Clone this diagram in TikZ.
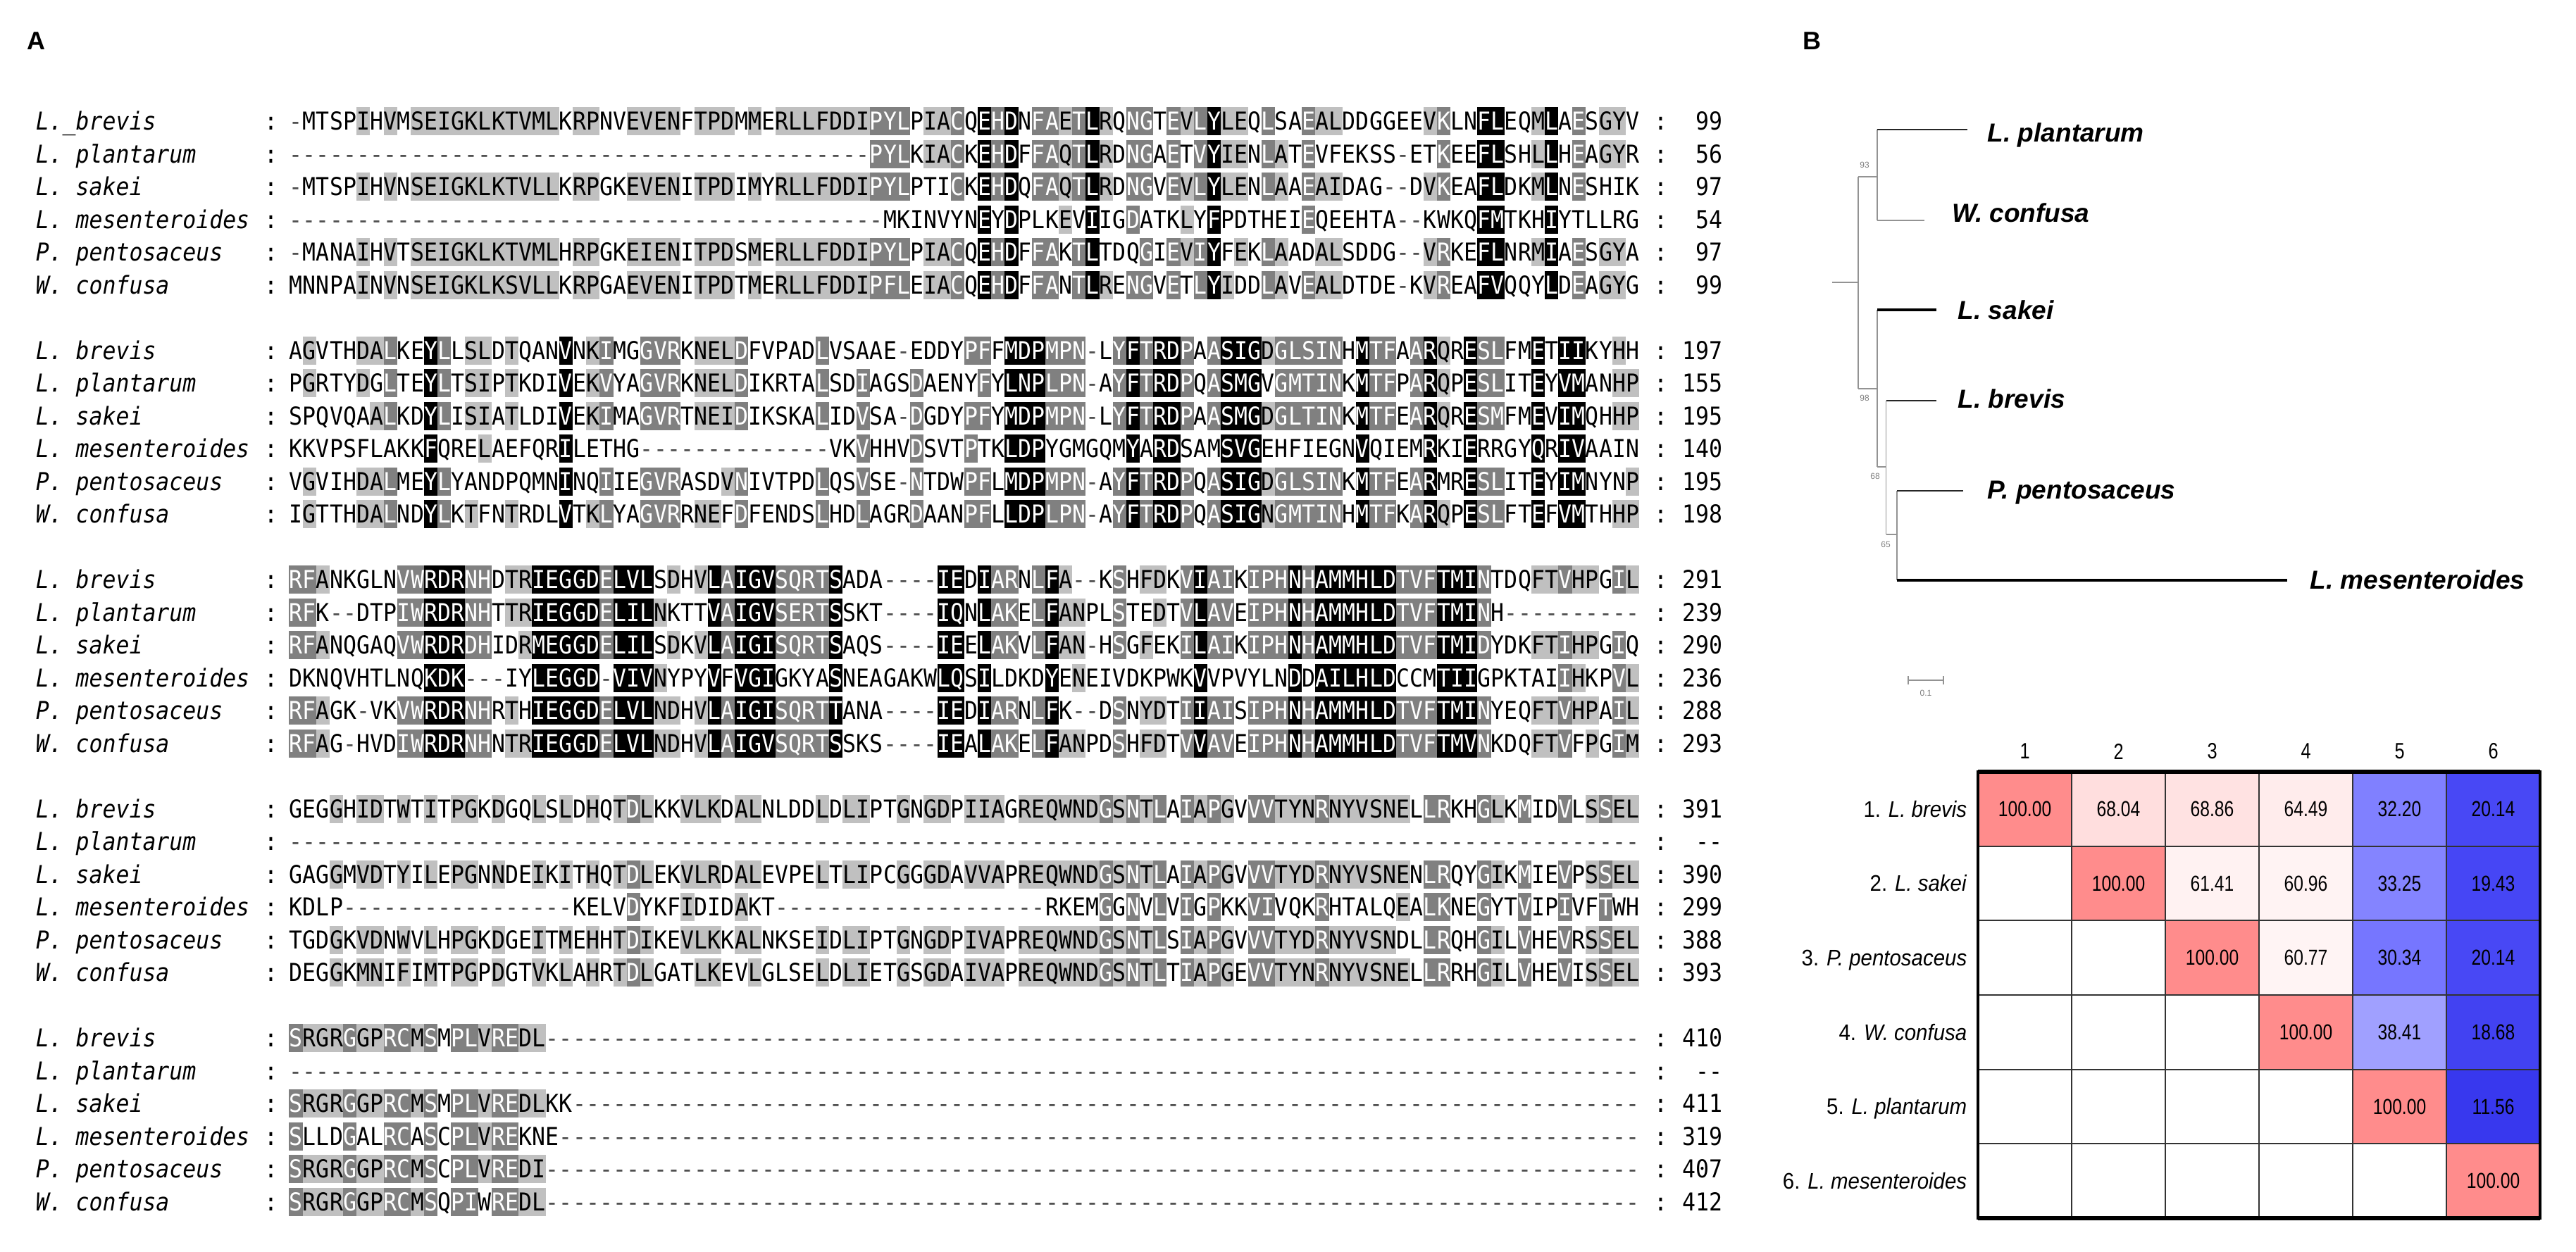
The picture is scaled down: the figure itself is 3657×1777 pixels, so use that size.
\documentclass[tikz,border=0pt]{standalone}
\usepackage{fontspec}
\setmainfont{Liberation Sans}
\newfontfamily\seqfont[FakeStretch=0.9]{DejaVu Sans Mono}
\newfontfamily\numfont[FakeStretch=0.8]{Liberation Sans}
\newfontfamily\lblfont[FakeStretch=0.92]{Liberation Sans}

\definecolor{shlight}{RGB}{192,192,192}
\definecolor{shdark}{RGB}{128,128,128}
\definecolor{gapc}{RGB}{80,80,80}
\definecolor{m100}{RGB}{255,140,140}
\definecolor{m6804}{RGB}{255,222,222}
\definecolor{m6886}{RGB}{255,226,226}
\definecolor{m6449}{RGB}{255,236,236}
\definecolor{m6141}{RGB}{255,242,242}
\definecolor{m6096}{RGB}{255,243,243}
\definecolor{m6077}{RGB}{255,244,244}
\definecolor{m3220}{RGB}{128,128,255}
\definecolor{m3325}{RGB}{132,132,255}
\definecolor{m3034}{RGB}{118,118,255}
\definecolor{m3841}{RGB}{160,160,255}
\definecolor{m2014}{RGB}{72,72,245}
\definecolor{m1943}{RGB}{70,70,245}
\definecolor{m1868}{RGB}{66,66,242}
\definecolor{m1156}{RGB}{56,56,238}

\tikzset{
  res/.style={inner sep=0pt, minimum width=4.79pt, minimum height=10pt,
    text height=6.4pt, text depth=0pt, font=\seqfont\fontsize{8.75}{10}\selectfont},
  res0/.style={res},
  res1/.style={res, fill=shlight},
  res2/.style={res, fill=shdark, text=white},
  res3/.style={res, fill=black, text=white},
  res4/.style={res, text=gapc},
  seqlab/.style={inner sep=0pt, text height=6.4pt, text depth=0pt,
    font=\seqfont\itshape\fontsize{8.75}{10}\selectfont, anchor=west},
  seqtxt/.style={inner sep=0pt, text height=6.4pt, text depth=0pt,
    font=\seqfont\fontsize{8.75}{10}\selectfont},
  tg/.style={draw=gray!85, line width=0.45pt},
  tb/.style={draw=black!85, line width=0.5pt},
  tk/.style={draw=black, line width=0.8pt},
  tlab/.style={inner sep=0pt, anchor=west, text height=6.6pt, text depth=0pt,
    font=\bfseries\itshape\fontsize{9.25}{11}\selectfont},
  boot/.style={inner sep=0pt, text=gray, font=\fontsize{3}{3.5}\selectfont},
  mval/.style={inner sep=0pt, font=\numfont\fontsize{7.7}{9}\selectfont},
  mhead/.style={inner sep=0pt, font=\numfont\fontsize{7.9}{9}\selectfont},
  mlab/.style={inner sep=0pt, anchor=east, text height=5.7pt, text depth=0pt,
    font=\lblfont\fontsize{8}{9}\selectfont},
  mgrid/.style={draw=black!80, line width=0.45pt},
  mborder/.style={draw=black, line width=0.8pt},
  panel/.style={inner sep=0pt, font=\bfseries\fontsize{9}{10}\selectfont}
}

\newcommand\alncell[5]{\node[res#4] (#5) at (#1,#2) {#3};}

\ExplSyntaxOn
\int_new:N \l__aln_m_int
\int_new:N \l__aln_lvl_int
\tl_const:Nn \c__aln_dash_tl { - }
\int_step_inline:nnn {1}{6}
  { \tl_new:c { l__aln_c_#1_tl } \tl_new:c { l__aln_g_#1_tl } }
\cs_new:cpn { aln_grp_N } { D }
\cs_new:cpn { aln_grp_Q } { E }
\cs_new:cpn { aln_grp_T } { S }
\cs_new:cpn { aln_grp_R } { K }
\cs_new:cpn { aln_grp_Y } { F }
\cs_new:cpn { aln_grp_W } { F }
\cs_new:cpn { aln_grp_I } { L }
\cs_new:cpn { aln_grp_V } { L }
\cs_new:cpn { aln_grp_M } { L }
\cs_new:Npn \alnD #1 { \prg_replicate:nn {#1} {-} }
\NewDocumentCommand \alnrow { m m m }
  {
    \tl_gclear_new:c { g__aln_#1_#2_tl }
    \tl_gset:cx { g__aln_#1_#2_tl } {#3}
    \tl_gput_right:cx { g__aln_#1_#2_tl }
      { \prg_replicate:nn { \int_max:nn {0} { 100 - \tl_count:c { g__aln_#1_#2_tl } } } {-} }
  }
\cs_new_protected:Npn \__aln_cell:nnn #1#2#3
  {
    \int_zero:N \l__aln_m_int
    \int_step_inline:nnn {1}{6}
      {
        \tl_if_eq:ccT { l__aln_g_#3_tl } { l__aln_g_##1_tl }
          { \int_incr:N \l__aln_m_int }
      }
    \tl_if_eq:cNTF { l__aln_c_#3_tl } \c__aln_dash_tl
      { \int_set:Nn \l__aln_lvl_int {4} }
      {
        \int_set:Nn \l__aln_lvl_int
          { \int_case:nnF { \l__aln_m_int } { {6}{3} {5}{2} {4}{1} } {0} }
      }
    \use:x
      {
        \exp_not:N \alncell
          { \fp_eval:n { 420 + (#2 - 1) * 19.17 } }
          { \fp_eval:n { 172 + 325.5 * #1 + 46.5 * (#3 - 1) } }
          { \tl_use:c { l__aln_c_#3_tl } }
          { \int_use:N \l__aln_lvl_int }
          { s#1-#3-#2 }
      }
  }
\cs_new_protected:Npn \__aln_col:nn #1#2
  {
    \int_step_inline:nnn {1}{6}
      {
        \tl_set:cx { l__aln_c_##1_tl } { \tl_item:cn { g__aln_#1_##1_tl } {#2} }
        \tl_set:cx { l__aln_g_##1_tl }
          { \cs_if_exist_use:cF { aln_grp_ \tl_use:c { l__aln_c_##1_tl } } { \tl_use:c { l__aln_c_##1_tl } } }
      }
    \int_step_inline:nnn {1}{6} { \__aln_cell:nnn {#1} {#2} {##1} }
  }
\NewDocumentCommand \alnblock { m }
  { \int_step_inline:nnn {1}{100} { \__aln_col:nn {#1} {##1} } }
\ExplSyntaxOff

% ---------------- data ----------------
\alnrow{0}{1}{-MTSPIHVMSEIGKLKTVMLKRPNVEVENFTPDMMERLLFDDIPYLPIACQEHDNFAETLRQNGTEVLYLEQLSAEALDDGGEEVKLNFLEQMLAESGYV}
\alnrow{0}{2}{\alnD{43}PYLKIACKEHDFFAQTLRDNGAETVYIENLATEVFEKSS-ETKEEFLSHLLHEAGYR}
\alnrow{0}{3}{-MTSPIHVNSEIGKLKTVLLKRPGKEVENITPDIMYRLLFDDIPYLPTICKEHDQFAQTLRDNGVEVLYLENLAAEAIDAG--DVKEAFLDKMLNESHIK}
\alnrow{0}{4}{\alnD{44}MKINVYNEYDPLKEVIIGDATKLYFPDTHEIEQEEHTA--KWKQFMTKHIYTLLRG}
\alnrow{0}{5}{-MANAIHVTSEIGKLKTVMLHRPGKEIENITPDSMERLLFDDIPYLPIACQEHDFFAKTLTDQGIEVIYFEKLAADALSDDG--VRKEFLNRMIAESGYA}
\alnrow{0}{6}{MNNPAINVNSEIGKLKSVLLKRPGAEVENITPDTMERLLFDDIPFLEIACQEHDFFANTLRENGVETLYIDDLAVEALDTDE-KVREAFVQQYLDEAGYG}

\alnrow{1}{1}{AGVTHDALKEYLLSLDTQANVNKIMGGVRKNELDFVPADLVSAAE-EDDYPFFMDPMPN-LYFTRDPAASIGDGLSINHMTFAARQRESLFMETIIKYHH}
\alnrow{1}{2}{PGRTYDGLTEYLTSIPTKDIVEKVYAGVRKNELDIKRTALSDIAGSDAENYFYLNPLPN-AYFTRDPQASMGVGMTINKMTFPARQPESLITEYVMANHP}
\alnrow{1}{3}{SPQVQAALKDYLISIATLDIVEKIMAGVRTNEIDIKSKALIDVSA-DGDYPFYMDPMPN-LYFTRDPAASMGDGLTINKMTFEARQRESMFMEVIMQHHP}
\alnrow{1}{4}{KKVPSFLAKKFQRELAEFQRILETHG\alnD{14}VKVHHVDSVTPTKLDPYGMGQMYARDSAMSVGEHFIEGNVQIEMRKIERRGYQRIVAAIN}
\alnrow{1}{5}{VGVIHDALMEYLYANDPQMNINQIIEGVRASDVNIVTPDLQSVSE-NTDWPFLMDPMPN-AYFTRDPQASIGDGLSINKMTFEARMRESLITEYIMNYNP}
\alnrow{1}{6}{IGTTHDALNDYLKTFNTRDLVTKLYAGVRRNEFDFENDSLHDLAGRDAANPFLLDPLPN-AYFTRDPQASIGNGMTINHMTFKARQPESLFTEFVMTHHP}

\alnrow{2}{1}{RFANKGLNVWRDRNHDTRIEGGDELVLSDHVLAIGVSQRTSADA----IEDIARNLFA--KSHFDKVIAIKIPHNHAMMHLDTVFTMINTDQFTVHPGIL}
\alnrow{2}{2}{RFK--DTPIWRDRNHTTRIEGGDELILNKTTVAIGVSERTSSKT----IQNLAKELFANPLSTEDTVLAVEIPHNHAMMHLDTVFTMINH}
\alnrow{2}{3}{RFANQGAQVWRDRDHIDRMEGGDELILSDKVLAIGISQRTSAQS----IEELAKVLFAN-HSGFEKILAIKIPHNHAMMHLDTVFTMIDYDKFTIHPGIQ}
\alnrow{2}{4}{DKNQVHTLNQKDK---IYLEGGD-VIVNYPYVFVGIGKYASNEAGAKWLQSILDKDYENEIVDKPWKVVPVYLNDDAILHLDCCMTIIGPKTAIIHKPVL}
\alnrow{2}{5}{RFAGK-VKVWRDRNHRTHIEGGDELVLNDHVLAIGISQRTTANA----IEDIARNLFK--DSNYDTIIAISIPHNHAMMHLDTVFTMINYEQFTVHPAIL}
\alnrow{2}{6}{RFAG-HVDIWRDRNHNTRIEGGDELVLNDHVLAIGVSQRTSSKS----IEALAKELFANPDSHFDTVVAVEIPHNHAMMHLDTVFTMVNKDQFTVFPGIM}

\alnrow{3}{1}{GEGGHIDTWTITPGKDGQLSLDHQTDLKKVLKDALNLDDLDLIPTGNGDPIIAGREQWNDGSNTLAIAPGVVVTYNRNYVSNELLRKHGLKMIDVLSSEL}
\alnrow{3}{2}{}
\alnrow{3}{3}{GAGGMVDTYILEPGNNDEIKITHQTDLEKVLRDALEVPELTLIPCGGGDAVVAPREQWNDGSNTLAIAPGVVVTYDRNYVSNENLRQYGIKMIEVPSSEL}
\alnrow{3}{4}{KDLP\alnD{17}KELVDYKFIDIDAKT\alnD{20}RKEMGGNVLVIGPKKVIVQKRHTALQEALKNEGYTVIPIVFTWH}
\alnrow{3}{5}{TGDGKVDNWVLHPGKDGEITMEHHTDIKEVLKKALNKSEIDLIPTGNGDPIVAPREQWNDGSNTLSIAPGVVVTYDRNYVSNDLLRQHGILVHEVRSSEL}
\alnrow{3}{6}{DEGGKMNIFIMTPGPDGTVKLAHRTDLGATLKEVLGLSELDLIETGSGDAIVAPREQWNDGSNTLTIAPGEVVTYNRNYVSNELLRRHGILVHEVISSEL}

\alnrow{4}{1}{SRGRGGPRCMSMPLVREDL}
\alnrow{4}{2}{}
\alnrow{4}{3}{SRGRGGPRCMSMPLVREDLKK}
\alnrow{4}{4}{SLLDGALRCASCPLVREKNE}
\alnrow{4}{5}{SRGRGGPRCMSCPLVREDI}
\alnrow{4}{6}{SRGRGGPRCMSQPIWREDL}

\newcommand\alnmeta[8]{%
  \foreach \r/\nm/\num in {1/{#2}/{#3},2/{L. plantarum}/{#4},3/{L. sakei}/{#5},4/{L. mesenteroides}/{#6},5/{P. pentosaceus}/{#7},6/{W. confusa}/{#8}}{%
    \pgfmathsetmacro\yy{172+325.5*#1+46.5*(\r-1)}
    \node[seqlab] (lab-#1-\r) at (50,\yy) {\nm};
    \node[seqtxt] (cola-#1-\r) at (385,\yy) {:};
    \node[seqtxt] (colb-#1-\r) at (2358,\yy) {:};
    \node[seqtxt,anchor=east] (num-#1-\r) at (2446,\yy) {\num};
  }%
}

\newcommand\mcell[4]{%
  \fill[#4] ({2808+133*(#2-1)},{1096+105.67*(#1-1)}) rectangle ({2808+133*#2},{1096+105.67*#1});
  \node[mval] (m-#1-#2) at ({2808+133*(#2-0.5)},{1096+105.67*(#1-0.5)}) {#3};
}

\begin{document}
\begin{tikzpicture}[x=0.25pt,y=-0.25pt]
\useasboundingbox (0,0) rectangle (3657,1777);
\fill[white] (0,0) rectangle (3657,1777);

\node[panel] (pA) at (51,58) {A};
\node[panel] (pB) at (2572,58) {B};

% ---------- alignment ----------
\alnblock{0}
\alnblock{1}
\alnblock{2}
\alnblock{3}
\alnblock{4}
\alnmeta{0}{L.\_brevis}{99}{56}{97}{54}{97}{99}
\alnmeta{1}{L. brevis}{197}{155}{195}{140}{195}{198}
\alnmeta{2}{L. brevis}{291}{239}{290}{236}{288}{293}
\alnmeta{3}{L. brevis}{391}{--}{390}{299}{388}{393}
\alnmeta{4}{L. brevis}{410}{--}{411}{319}{407}{412}

% ---------- tree ----------
\coordinate (Rs) at (2601,401);
\coordinate (R) at (2638,401);
\coordinate (A) at (2665,251);
\coordinate (B) at (2665,552);
\coordinate (C) at (2677.5,663);
\coordinate (D) at (2693,759);
\coordinate (tPl) at (2793,184);
\coordinate (tWc) at (2732,313);
\coordinate (tSk) at (2749,440);
\coordinate (tBr) at (2749,569);
\coordinate (tPp) at (2787,697);
\coordinate (tLm) at (3247,824);
\draw[tg] (Rs) -- (R);
\draw[tg] (A -| R) -- (B -| R);
\draw[tg] (R |- A) -- (A);
\draw[tg] (R |- B) -- (B);
\draw[tg] (tPl -| A) -- (tWc -| A);
\draw[tb] (tPl -| A) -- (tPl);
\draw[tg] (tWc -| A) -- (tWc);
\draw[tg] (tSk -| B) -- (C -| B);
\draw[tk] (tSk -| B) -- (tSk);
\draw[tg] (C -| B) -- (C);
\draw[tg] (tBr -| C) -- (D -| C);
\draw[tb] (tBr -| C) -- (tBr);
\draw[tg] (D -| C) -- (D);
\draw[tg] (tPp -| D) -- (tLm -| D);
\draw[tb] (tPp -| D) -- (tPp);
\draw[tk] (tLm -| D) -- (tLm);
\node[tlab] (lPl) at (2821,188) {L. plantarum};
\node[tlab] (lWc) at (2771,302) {W. confusa};
\node[tlab] (lSk) at (2779,440) {L. sakei};
\node[tlab] (lBr) at (2779,566) {L. brevis};
\node[tlab] (lPp) at (2821,695) {P. pentosaceus};
\node[tlab] (lLm) at (3279,823) {L. mesenteroides};
\node[boot] (bs1) at (2647,234) {93};
\node[boot] (bs2) at (2647,565) {98};
\node[boot] (bs3) at (2662,676) {68};
\node[boot] (bs4) at (2677,773) {65};
\coordinate (sb1) at (2709,966);
\coordinate (sb2) at (2759,966);
\draw[tg] (sb1) -- (sb2);
\draw[tg] (2709,960) -- (2709,972);
\draw[tg] (2759,960) -- (2759,972);
\node[boot] (sbl) at (2734,984) {0.1};

% ---------- identity matrix ----------
\mcell{1}{1}{100.00}{m100}
\mcell{1}{2}{68.04}{m6804}
\mcell{1}{3}{68.86}{m6886}
\mcell{1}{4}{64.49}{m6449}
\mcell{1}{5}{32.20}{m3220}
\mcell{1}{6}{20.14}{m2014}
\mcell{2}{2}{100.00}{m100}
\mcell{2}{3}{61.41}{m6141}
\mcell{2}{4}{60.96}{m6096}
\mcell{2}{5}{33.25}{m3325}
\mcell{2}{6}{19.43}{m1943}
\mcell{3}{3}{100.00}{m100}
\mcell{3}{4}{60.77}{m6077}
\mcell{3}{5}{30.34}{m3034}
\mcell{3}{6}{20.14}{m2014}
\mcell{4}{4}{100.00}{m100}
\mcell{4}{5}{38.41}{m3841}
\mcell{4}{6}{18.68}{m1868}
\mcell{5}{5}{100.00}{m100}
\mcell{5}{6}{11.56}{m1156}
\mcell{6}{6}{100.00}{m100}
\foreach \j in {1,...,5} \draw[mgrid] ({2808+133*\j},1096) -- ({2808+133*\j},1730);
\foreach \i in {1,...,5} \draw[mgrid] (2808,{1096+105.67*\i}) -- (3606,{1096+105.67*\i});
\draw[mborder] (2808,1096) rectangle (3606,1730);
\draw[line width=1.3pt] (2808,1096) -- (3606,1096);
\draw[line width=1.6pt] (2808,1730) -- (3606,1730);
\foreach \j in {1,...,6} \node[mhead] (h\j) at ({2808+133*(\j-0.5)},1067) {\j};
\node[mlab] (rl1) at (2793,1148.8) {1. \textit{L. brevis}};
\node[mlab] (rl2) at (2793,1254.5) {2. \textit{L. sakei}};
\node[mlab] (rl3) at (2793,1360.2) {3. \textit{P. pentosaceus}};
\node[mlab] (rl4) at (2793,1465.8) {4. \textit{W. confusa}};
\node[mlab] (rl5) at (2793,1571.5) {5. \textit{L. plantarum}};
\node[mlab] (rl6) at (2793,1677.2) {6. \textit{L. mesenteroides}};
\end{tikzpicture}
\end{document}
